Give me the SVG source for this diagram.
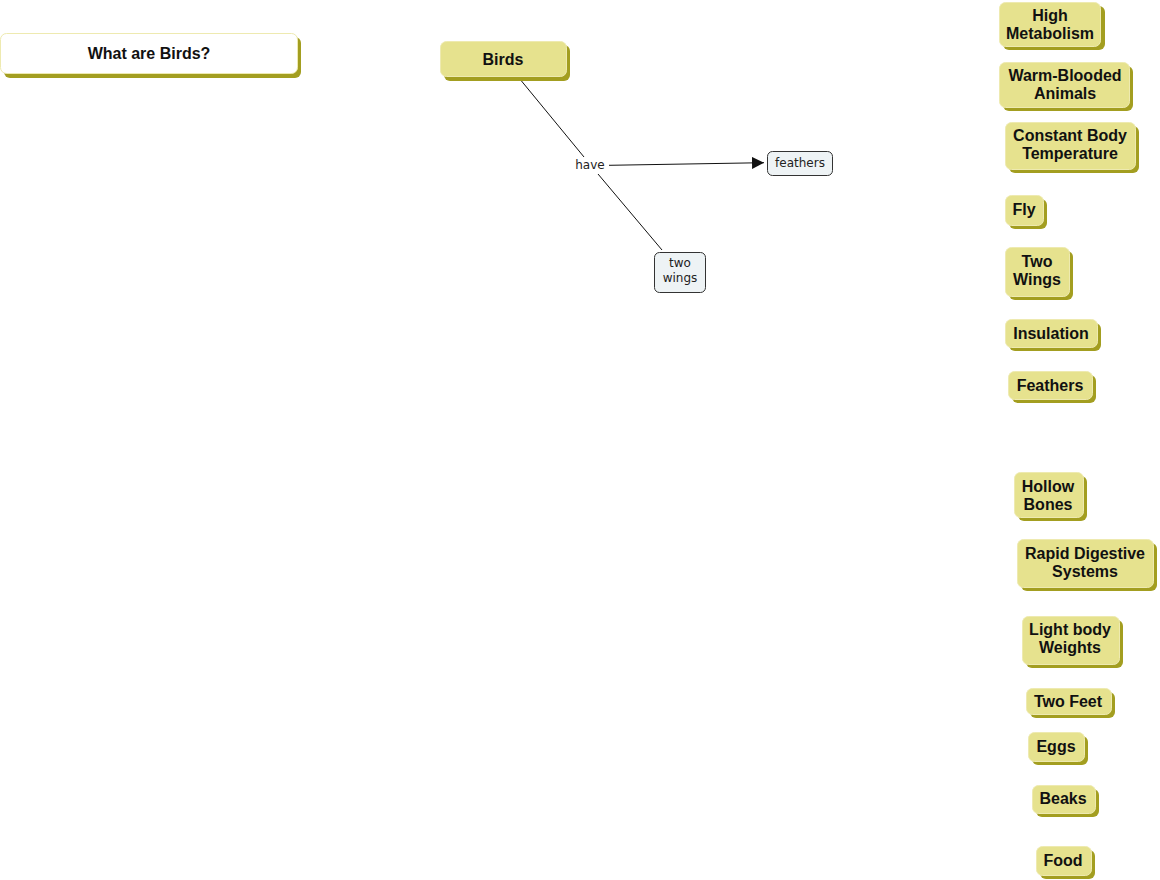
<svg xmlns="http://www.w3.org/2000/svg" width="1160" height="880" viewBox="0 0 1160 880">
<style>
.sh{fill:#a39e20}
.bx{fill:#e6e28e;stroke:#eeeab0;stroke-width:1}
.wb{fill:#ffffff;stroke:#eeeab0;stroke-width:1}
.cb{fill:#eef3f5;stroke:#333;stroke-width:1}
.t{font-family:"Liberation Sans",Arial,sans-serif;font-weight:bold;font-size:16px;fill:#111;text-anchor:middle}
.s{font-family:"DejaVu Sans",Verdana,sans-serif;font-size:12px;fill:#222;text-anchor:middle}
.ln{stroke:#111;stroke-width:1;fill:none}
</style>
<defs>
<marker id="ar" viewBox="0 0 10 10" refX="10" refY="5" markerWidth="12" markerHeight="12" markerUnits="userSpaceOnUse" orient="auto">
<path d="M0,0 L10,5 L0,10 z" fill="#111"/>
</marker>
</defs>
<rect width="1160" height="880" fill="#fff"/>
<g id="connectors">
<line class="ln" x1="521.5" y1="81" x2="584" y2="157"/>
<line class="ln" x1="598" y1="174" x2="662" y2="250"/>
<line class="ln" x1="609" y1="165.3" x2="764" y2="162.7" marker-end="url(#ar)"/>
</g>
<g id="title">
<rect class="sh" x="4" y="37" width="297" height="41" rx="6"/>
<rect class="wb" x="0.5" y="33.5" width="297" height="40" rx="6"/>
<text class="t" x="149" y="59">What are Birds?</text>
</g>
<g id="birds">
<rect class="sh" x="444" y="45" width="126" height="36" rx="6"/>
<rect class="bx" x="440.5" y="41.5" width="126" height="35" rx="6"/>
<text class="t" x="503" y="65">Birds</text>
</g>
<g id="have">
<text class="s" x="590" y="169">have</text>
</g>
<g id="feathers-c">
<rect class="cb" x="767.5" y="151.5" width="65" height="24" rx="5"/>
<text class="s" x="800" y="167">feathers</text>
</g>
<g id="twowings-c">
<rect class="cb" x="654.5" y="252.5" width="51" height="40" rx="5"/>
<text class="s" x="680" y="267">two</text>
<text class="s" x="680" y="282">wings</text>
</g>
<g id="n1">
<rect class="sh" x="1003" y="6" width="102" height="44" rx="6"/>
<rect class="bx" x="999.5" y="2.5" width="101" height="44" rx="6"/>
<text class="t" x="1050" y="21">High</text>
<text class="t" x="1050" y="39">Metabolism</text>
</g>
<g id="n2">
<rect class="sh" x="1003" y="66" width="130" height="45" rx="6"/>
<rect class="bx" x="999.5" y="62.5" width="130" height="45" rx="6"/>
<text class="t" x="1065" y="81">Warm-Blooded</text>
<text class="t" x="1065" y="99">Animals</text>
</g>
<g id="n3">
<rect class="sh" x="1009" y="126" width="130" height="47" rx="6"/>
<rect class="bx" x="1005.5" y="122.5" width="130" height="47" rx="6"/>
<text class="t" x="1070" y="141">Constant Body</text>
<text class="t" x="1070" y="159">Temperature</text>
</g>
<g id="n4">
<rect class="sh" x="1009" y="199" width="38" height="30" rx="6"/>
<rect class="bx" x="1005.5" y="195.5" width="38" height="30" rx="6"/>
<text class="t" x="1024" y="215">Fly</text>
</g>
<g id="n5">
<rect class="sh" x="1009" y="251" width="64" height="49" rx="6"/>
<rect class="bx" x="1005.5" y="247.5" width="64" height="49" rx="6"/>
<text class="t" x="1037" y="267">Two</text>
<text class="t" x="1037" y="285">Wings</text>
</g>
<g id="n6">
<rect class="sh" x="1009" y="323" width="92" height="28" rx="6"/>
<rect class="bx" x="1005.5" y="319.5" width="92" height="28" rx="6"/>
<text class="t" x="1051" y="339">Insulation</text>
</g>
<g id="n7">
<rect class="sh" x="1012" y="375" width="84" height="28" rx="6"/>
<rect class="bx" x="1008.5" y="371.5" width="84" height="28" rx="6"/>
<text class="t" x="1050" y="391">Feathers</text>
</g>
<g id="n8">
<rect class="sh" x="1018" y="476" width="69" height="45" rx="6"/>
<rect class="bx" x="1014.5" y="472.5" width="69" height="45" rx="6"/>
<text class="t" x="1048" y="492">Hollow</text>
<text class="t" x="1048" y="510">Bones</text>
</g>
<g id="n9">
<rect class="sh" x="1021" y="543" width="136" height="48" rx="6"/>
<rect class="bx" x="1017.5" y="539.5" width="136" height="48" rx="6"/>
<text class="t" x="1085" y="559">Rapid Digestive</text>
<text class="t" x="1085" y="577">Systems</text>
</g>
<g id="n10">
<rect class="sh" x="1026" y="620" width="97" height="48" rx="6"/>
<rect class="bx" x="1022.5" y="616.5" width="97" height="48" rx="6"/>
<text class="t" x="1070" y="635">Light body</text>
<text class="t" x="1070" y="653">Weights</text>
</g>
<g id="n11">
<rect class="sh" x="1030" y="692" width="85" height="26" rx="6"/>
<rect class="bx" x="1026.5" y="688.5" width="85" height="26" rx="6"/>
<text class="t" x="1068" y="707">Two Feet</text>
</g>
<g id="n12">
<rect class="sh" x="1032" y="736" width="56" height="29" rx="6"/>
<rect class="bx" x="1028.5" y="732.5" width="56" height="29" rx="6"/>
<text class="t" x="1056" y="752">Eggs</text>
</g>
<g id="n13">
<rect class="sh" x="1036" y="789" width="63" height="28" rx="6"/>
<rect class="bx" x="1032.5" y="785.5" width="63" height="28" rx="6"/>
<text class="t" x="1063" y="804">Beaks</text>
</g>
<g id="n14">
<rect class="sh" x="1040" y="850" width="55" height="29" rx="6"/>
<rect class="bx" x="1036.5" y="846.5" width="55" height="29" rx="6"/>
<text class="t" x="1063" y="866">Food</text>
</g>
</svg>
